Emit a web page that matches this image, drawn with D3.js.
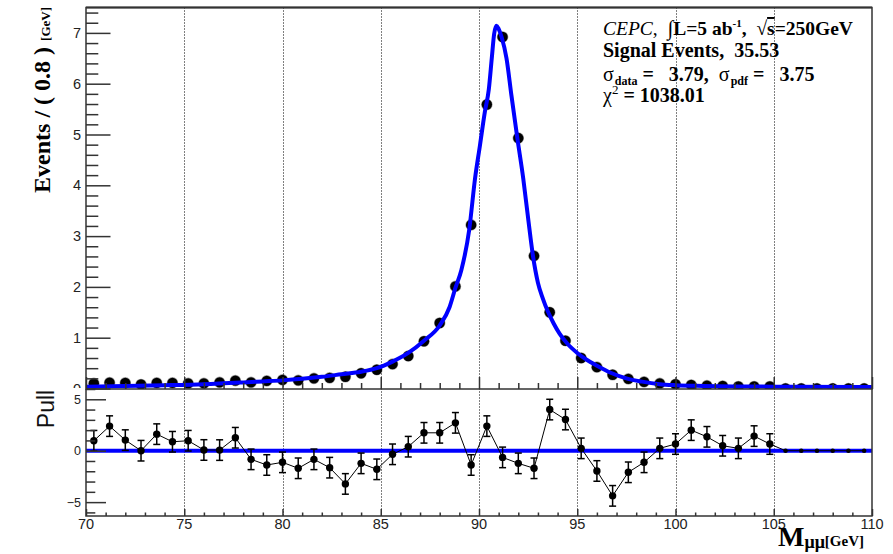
<!DOCTYPE html>
<html>
<head>
<meta charset="utf-8">
<script src="https://cdn.jsdelivr.net/npm/d3@7"></script>
<style>
  html, body { margin: 0; padding: 0; background: #fff; }
  svg { display: block; }
</style>
</head>
<body>
<svg id="chart" width="893" height="554"></svg>
<script>
// Dimuon invariant mass, 0.8 GeV bins from 70 to 110 GeV
const binCenters = d3.range(50).map(i => +(70.4 + 0.8 * i).toFixed(1));

// Weighted events per bin
const events = [
  0.10, 0.115, 0.11, 0.08, 0.11, 0.11, 0.10, 0.10, 0.12, 0.155,
  0.12, 0.15, 0.17, 0.16, 0.20, 0.21, 0.23, 0.30, 0.37, 0.48,
  0.64, 0.93, 1.29, 2.01, 3.22, 5.59, 6.92, 4.93, 2.61, 1.50,
  0.94, 0.60, 0.42, 0.27, 0.19, 0.13, 0.10, 0.083, 0.07, 0.056,
  0.05, 0.04, 0.04, 0.04, 0, 0, 0, 0, 0, 0
];

// Pull of each bin with respect to the fitted pdf
const pulls = [
  0.97, 2.39, 1.03, 0.0, 1.61, 0.87, 0.97, 0.07, 0.06, 1.26,
  -0.84, -1.39, -1.13, -1.71, -0.84, -1.65, -3.23, -1.23, -1.81, -0.35,
  0.39, 1.74, 1.74, 2.71, -1.39, 2.39, -0.65, -1.23, -1.71, 4.0,
  3.03, 0.23, -1.97, -4.39, -2.1, -1.13, 0.23, 0.65, 2.0, 1.35,
  0.48, 0.23, 1.42, 0.65, 0, 0, 0, 0, 0, 0
];
// bins with no entries carry no pull error
const pullErr = events.map(v => v > 0 ? 1 : 0);

// Fitted pdf, sampled along the mass range
const pdfMass = [
  70.0, 72.0, 74.0, 76.0, 78.0, 79.0, 80.0, 81.0, 82.0, 83.0,
  84.0, 84.8, 85.6, 86.4, 87.2, 88.0, 88.5, 88.8, 89.1, 89.5,
  89.8, 90.05, 90.3, 90.5, 90.65, 90.77, 90.89, 91.0, 91.15, 91.4,
  91.65, 91.95, 92.25, 92.5, 92.75, 93.0, 93.25, 93.5, 93.8, 94.1,
  94.5, 95.0, 95.5, 96.0, 96.7, 97.5, 98.3, 99.2, 100.0, 101.4,
  103.0, 106.0, 110.0
];
const pdfValue = [
  0.035, 0.05, 0.065, 0.085, 0.12, 0.14, 0.16, 0.19, 0.23, 0.28,
  0.33, 0.40, 0.53, 0.70, 0.94, 1.24, 1.60, 1.98, 2.33, 3.12,
  4.14, 4.79, 5.45, 5.89, 6.50, 6.98, 7.14, 7.08, 6.92, 6.50,
  5.77, 4.93, 4.14, 3.35, 2.60, 2.08, 1.77, 1.52, 1.28, 1.08,
  0.88, 0.70, 0.56, 0.45, 0.31, 0.20, 0.135, 0.085, 0.065, 0.05,
  0.04, 0.035, 0.03
];

const mainTicks = [0, 1, 2, 3, 4, 5, 6, 7];
const pullTicks = [-5, 0, 5];
const massTicks = [70, 75, 80, 85, 90, 95, 100, 105, 110];

const svg = d3.select("#chart");
const W = 893, H = 554;
svg.append("rect").attr("width", W).attr("height", H).attr("fill", "#fff");

const left = 86, right = 872;
const mainTop = 7.5, mainBottom = 389;
const pullTop = 389, pullBottom = 516;

const x = d3.scaleLinear().domain([70, 110]).range([left, right]);
const y = d3.scaleLinear().domain([0, 7.5]).range([388.5, mainTop]);
const yp = d3.scaleLinear().domain([-6.35, 6]).range([pullBottom, pullTop]);

const axisColor = "#333";
const tickFont = "Liberation Sans, Arial, sans-serif";
const serif = "Liberation Serif, Times New Roman, serif";

const defs = svg.append("defs");
defs.append("clipPath").attr("id", "clipMain")
  .append("rect").attr("x", left).attr("y", mainTop).attr("width", right - left).attr("height", mainBottom - mainTop);
defs.append("clipPath").attr("id", "clipPull")
  .append("rect").attr("x", left).attr("y", pullTop).attr("width", right - left).attr("height", pullBottom - pullTop);
defs.append("clipPath").attr("id", "clipMainLabels")
  .append("rect").attr("x", 0).attr("y", 0).attr("width", left).attr("height", mainBottom - 1);

// vertical dotted grid through both panels
svg.append("g").selectAll("line")
  .data(massTicks.filter(t => t > 70 && t < 110))
  .join("line")
  .attr("x1", d => Math.round(x(d)) + 0.5).attr("x2", d => Math.round(x(d)) + 0.5)
  .attr("y1", mainTop).attr("y2", pullBottom)
  .attr("stroke", "#000").attr("stroke-width", 1)
  .attr("stroke-dasharray", "1,2");

// ---------- main panel ----------
const mainG = svg.append("g").attr("clip-path", "url(#clipMain)");

mainG.selectAll("circle.data")
  .data(binCenters.map((m, i) => [m, events[i]]))
  .join("circle")
  .attr("class", "data")
  .attr("cx", d => x(d[0])).attr("cy", d => y(d[1]))
  .attr("r", 5.2)
  .attr("fill", "#000")
  .attr("stroke", "rgba(0,0,0,0.35)").attr("stroke-width", 1.2);

const pdfLine = d3.line()
  .x(d => x(d[0])).y(d => y(d[1]))
  .curve(d3.curveMonotoneX);
mainG.append("path")
  .datum(pdfMass.map((m, i) => [m, pdfValue[i]]))
  .attr("d", pdfLine)
  .attr("fill", "none")
  .attr("stroke", "#0000ff")
  .attr("stroke-width", 4)
  .attr("stroke-linejoin", "round");

// main y axis with major / minor ticks
svg.append("g").attr("transform", `translate(${left},0)`)
  .call(d3.axisRight(y).tickValues(mainTicks).tickSize(24.5).tickFormat(""))
  .call(g => g.select(".domain").remove());
const yMinor = d3.range(0.2, 7.5, 0.2).filter(v => Math.abs(v - Math.round(v)) > 1e-6);
svg.append("g").attr("transform", `translate(${left},0)`)
  .call(d3.axisRight(y).tickValues(yMinor).tickSize(12.3).tickFormat(""))
  .call(g => g.select(".domain").remove());

// main y labels (clipped to the upper pad)
svg.append("g").attr("clip-path", "url(#clipMainLabels)")
  .selectAll("text").data(mainTicks).join("text")
  .attr("x", 81).attr("y", d => y(d) + 5)
  .attr("text-anchor", "end")
  .attr("font-family", tickFont).attr("font-size", 14.5)
  .attr("fill", "#222")
  .text(d => d);

// main bottom axis ticks (pointing up)
svg.append("g").attr("transform", `translate(0,${mainBottom})`)
  .call(d3.axisTop(x).tickValues(massTicks).tickSize(12).tickFormat(""))
  .call(g => g.select(".domain").remove());
svg.append("g").attr("transform", `translate(0,${mainBottom})`)
  .call(d3.axisTop(x).tickValues(d3.range(71, 110, 1).filter(v => v % 5 !== 0)).tickSize(6).tickFormat(""))
  .call(g => g.select(".domain").remove());

// main frame
svg.append("rect")
  .attr("x", left).attr("y", mainTop).attr("width", right - left).attr("height", mainBottom - mainTop)
  .attr("fill", "none").attr("stroke", axisColor).attr("stroke-width", 1.5);
svg.append("line").attr("x1", left).attr("x2", right).attr("y1", mainTop).attr("y2", mainTop)
  .attr("stroke", axisColor).attr("stroke-width", 2.2);

// ---------- pull panel ----------
const pullG = svg.append("g").attr("clip-path", "url(#clipPull)");
pullG.append("line")
  .attr("x1", left).attr("x2", right).attr("y1", yp(0)).attr("y2", yp(0))
  .attr("stroke", "#0000ff").attr("stroke-width", 4);

const pullData = binCenters.map((m, i) => ({ m, p: pulls[i], e: pullErr[i] }));
pullG.append("path")
  .datum(pullData)
  .attr("d", d3.line().x(d => x(d.m)).y(d => yp(d.p)))
  .attr("fill", "none").attr("stroke", "#000").attr("stroke-width", 1);

const eb = pullG.selectAll("g.err").data(pullData.filter(d => d.e > 0)).join("g").attr("class", "err")
  .attr("stroke", "#000").attr("stroke-width", 1.5);
eb.append("line")
  .attr("x1", d => x(d.m)).attr("x2", d => x(d.m))
  .attr("y1", d => yp(d.p - d.e)).attr("y2", d => yp(d.p + d.e));
eb.append("line")
  .attr("x1", d => x(d.m) - 3.5).attr("x2", d => x(d.m) + 3.5)
  .attr("y1", d => yp(d.p + d.e)).attr("y2", d => yp(d.p + d.e));
eb.append("line")
  .attr("x1", d => x(d.m) - 3.5).attr("x2", d => x(d.m) + 3.5)
  .attr("y1", d => yp(d.p - d.e)).attr("y2", d => yp(d.p - d.e));

pullG.selectAll("circle.pull").data(pullData).join("circle")
  .attr("class", "pull")
  .attr("cx", d => x(d.m)).attr("cy", d => yp(d.p))
  .attr("r", d => d.e > 0 ? 3.7 : 2.3)
  .attr("fill", "#000");

// pull y axis
svg.append("g").attr("transform", `translate(${left},0)`)
  .call(d3.axisRight(yp).tickValues(pullTicks).tickSize(20).tickFormat(""))
  .call(g => g.select(".domain").remove());
svg.append("g").attr("transform", `translate(${left},0)`)
  .call(d3.axisRight(yp).tickValues(d3.range(-6, 7, 1).filter(v => v % 5 !== 0)).tickSize(9.3).tickFormat(""))
  .call(g => g.select(".domain").remove());
svg.append("g").selectAll("text").data(pullTicks).join("text")
  .attr("x", 81).attr("y", d => yp(d) + 4.5)
  .attr("text-anchor", "end")
  .attr("font-family", tickFont).attr("font-size", 12.5)
  .attr("fill", "#222")
  .text(d => d < 0 ? "\u2212" + Math.abs(d) : d);

// pull bottom axis
svg.append("g").attr("transform", `translate(0,${pullBottom})`)
  .call(d3.axisTop(x).tickValues(massTicks).tickSize(7).tickFormat(""))
  .call(g => g.select(".domain").remove());
svg.append("g").attr("transform", `translate(0,${pullBottom})`)
  .call(d3.axisTop(x).tickValues(d3.range(71, 110, 1).filter(v => v % 5 !== 0)).tickSize(3.5).tickFormat(""))
  .call(g => g.select(".domain").remove());
svg.append("g").selectAll("text").data(massTicks).join("text")
  .attr("x", d => x(d)).attr("y", 529)
  .attr("text-anchor", "middle")
  .attr("font-family", tickFont).attr("font-size", 14.5)
  .attr("fill", "#222")
  .text(d => d);

// pull frame
svg.append("path")
  .attr("d", `M${left},${pullTop}V${pullBottom}H${right}V${pullTop}`)
  .attr("fill", "none").attr("stroke", axisColor).attr("stroke-width", 1.5);

svg.selectAll(".tick line").attr("stroke", axisColor).attr("stroke-width", 1.5);

// ---------- titles ----------
const yTitle = svg.append("text")
  .attr("transform", "translate(50,7) rotate(-90)")
  .attr("text-anchor", "end")
  .attr("font-family", serif).attr("font-weight", "bold")
  .attr("fill", "#000");
yTitle.append("tspan").attr("font-size", 24).text("Events / ( 0.8 ) ");
yTitle.append("tspan").attr("font-size", 13).text("[GeV]");

svg.append("text")
  .attr("transform", "translate(54,409) rotate(-90)")
  .attr("text-anchor", "middle")
  .attr("font-family", tickFont).attr("font-size", 23)
  .attr("fill", "#111")
  .text("Pull");

const xTitle = svg.append("text")
  .attr("x", 778).attr("y", 546)
  .attr("font-family", serif).attr("font-weight", "bold").attr("fill", "#000");
xTitle.append("tspan").attr("font-size", 28).text("M");
xTitle.append("tspan").attr("font-size", 18).attr("dy", 2).text("\u03bc\u03bc");
xTitle.append("tspan").attr("font-size", 15).attr("dy", -2).text("[GeV]");

// ---------- fit summary ----------
const info = svg.append("g").attr("font-family", serif).attr("fill", "#000");
const t1 = info.append("text").attr("x", 603).attr("y", 35).attr("font-size", 19.5).attr("xml:space", "preserve");
t1.append("tspan").attr("font-style", "italic").text("CEPC");
t1.append("tspan").text(",  ");
t1.append("tspan").attr("font-size", 21).text("\u222b");
t1.append("tspan").attr("font-weight", "bold").text("L=5 ab");
t1.append("tspan").attr("font-weight", "bold").attr("font-size", 11).attr("dy", -8).text("-1");
t1.append("tspan").attr("font-weight", "bold").attr("dy", 8).text(",  ");
t1.append("tspan").text("\u221a");
t1.append("tspan").attr("font-weight", "bold").attr("text-decoration", "overline").text("s");
t1.append("tspan").attr("font-weight", "bold").text("=250GeV");

info.append("text").attr("x", 603).attr("y", 57).attr("font-size", 20)
  .attr("font-weight", "bold").attr("xml:space", "preserve")
  .text("Signal Events,  35.53");

const t3 = info.append("text").attr("x", 603).attr("y", 81).attr("font-size", 20).attr("xml:space", "preserve");
t3.append("tspan").text("\u03c3");
t3.append("tspan").attr("font-weight", "bold").attr("font-size", 12).attr("dx", 1).attr("dy", 4).text("data");
t3.append("tspan").attr("font-weight", "bold").attr("dy", -4).text(" =   3.79,  ");
t3.append("tspan").text("\u03c3");
t3.append("tspan").attr("font-weight", "bold").attr("font-size", 12).attr("dx", 1).attr("dy", 4).text("pdf");
t3.append("tspan").attr("font-weight", "bold").attr("dy", -4).text(" =   3.75");

const t4 = info.append("text").attr("x", 603).attr("y", 102).attr("font-size", 20).attr("xml:space", "preserve");
t4.append("tspan").text("\u03c7");
t4.append("tspan").attr("font-size", 13).attr("dy", -8).text("2");
t4.append("tspan").attr("font-weight", "bold").attr("dy", 8).text(" = 1038.01");
</script>
</body>
</html>
